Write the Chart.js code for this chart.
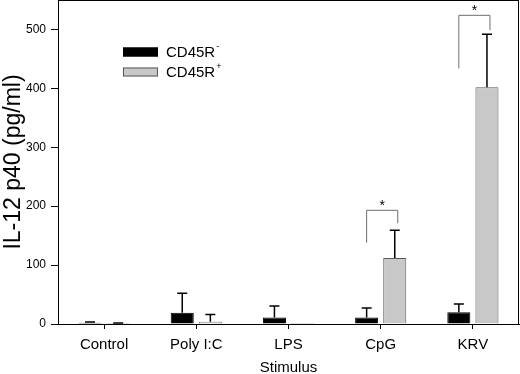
<html>
<head>
<script src="https://cdn.jsdelivr.net/npm/chart.js@4.4.0/dist/chart.umd.min.js"></script>
<style>
  body { margin: 0; background: white; }
  canvas { display: block; }
</style>
</head>
<body>
  <canvas id="il12Chart" width="520" height="374"></canvas>

<script>
  // values (pg/ml)
  var stimuli = ["Control", "Poly I:C", "LPS", "CpG", "KRV"];
  var cd45Neg = [2, 19, 11, 11, 20];
  var cd45NegErr = [1.5, 33, 19.5, 16, 14];
  var cd45Pos = [1, 4, 1, 112, 402];
  var cd45PosErr = [0.5, 12, 0, 47, 90];
  var yTicks = [0, 100, 200, 300, 400, 500];

  // significance brackets: category index, left leg bottom, right leg bottom, bar top
  var sigIndex = [3, 4];
  var sigLeftLow = [138, 434];
  var sigRightLow = [171, 499];
  var sigTop = [193, 524];

  var fontName = "'Liberation Sans', Arial, sans-serif";

  // draws error bars, brackets, legend and the plot frame
  var extrasPlugin = {
    id: "extras",
    afterDatasetsDraw: function(chart) {
      var ctx = chart.ctx;
      var yScale = chart.scales.y;
      var errs = [cd45NegErr, cd45PosErr];
      var vals = [cd45Neg, cd45Pos];

      ctx.save();
      ctx.strokeStyle = "#000";
      ctx.lineWidth = 1.5;
      for (var d = 0; d < 2; d++) {
        var meta = chart.getDatasetMeta(d);
        for (var i = 0; i < meta.data.length; i++) {
          if (errs[d][i] <= 0) continue;
          var bx = meta.data[i].x;
          var yTop = yScale.getPixelForValue(vals[d][i] + errs[d][i]);
          var yBar = yScale.getPixelForValue(vals[d][i]);
          ctx.beginPath();
          ctx.moveTo(bx, yBar);
          ctx.lineTo(bx, yTop);
          ctx.moveTo(bx - 5, yTop);
          ctx.lineTo(bx + 5, yTop);
          ctx.stroke();
        }
      }

      // brackets with stars
      ctx.strokeStyle = "#6e6e6e";
      ctx.lineWidth = 1;
      for (var k = 0; k < sigIndex.length; k++) {
        var xl = chart.getDatasetMeta(0).data[sigIndex[k]].x;
        var xr = chart.getDatasetMeta(1).data[sigIndex[k]].x + 3;
        var yt = yScale.getPixelForValue(sigTop[k]);
        ctx.beginPath();
        ctx.moveTo(xl, yScale.getPixelForValue(sigLeftLow[k]));
        ctx.lineTo(xl, yt);
        ctx.lineTo(xr, yt);
        ctx.lineTo(xr, yScale.getPixelForValue(sigRightLow[k]));
        ctx.stroke();
        ctx.fillStyle = "#000";
        ctx.font = "14px " + fontName;
        ctx.textAlign = "center";
        ctx.textBaseline = "middle";
        ctx.fillText("*", (xl + xr) / 2, yt - 4);
      }

      // legend
      var area = chart.chartArea;
      var lx = area.left + 65;
      var rows = [
        { fill: "#000", stroke: "#000", sup: "-", y: area.top + 52 },
        { fill: "#c8c8c8", stroke: "#5a5a5a", sup: "+", y: area.top + 72 }
      ];
      ctx.textAlign = "left";
      ctx.textBaseline = "middle";
      rows.forEach(function(r) {
        ctx.fillStyle = r.fill;
        ctx.fillRect(lx, r.y - 4.5, 35, 9);
        ctx.strokeStyle = r.stroke;
        ctx.lineWidth = 1;
        ctx.strokeRect(lx + 0.5, r.y - 4, 34, 8);
        ctx.fillStyle = "#000";
        ctx.font = "15px " + fontName;
        ctx.fillText("CD45R", lx + 43, r.y + 1);
        var w = ctx.measureText("CD45R").width;
        ctx.font = "9px " + fontName;
        ctx.fillText(r.sup, lx + 44 + w, r.y - 5);
      });

      // frame round the plot
      ctx.strokeStyle = "#000";
      ctx.lineWidth = 1;
      ctx.strokeRect(area.left + 0.5, area.top + 0.5, area.right - area.left - 1, area.bottom - area.top);
      ctx.restore();
    }
  };

  var il12Chart = new Chart(document.getElementById("il12Chart"), {
    type: "bar",
    data: {
      labels: stimuli,
      datasets: [
        {
          label: "CD45R-",
          data: cd45Neg,
          backgroundColor: "#000",
          borderColor: "#000",
          borderWidth: 1,
          minBarLength: 1
        },
        {
          label: "CD45R+",
          data: cd45Pos,
          backgroundColor: "#c8c8c8",
          borderColor: "#5a5a5a",
          borderWidth: 1,
          minBarLength: 1
        }
      ]
    },
    options: {
      responsive: false,
      animation: false,
      categoryPercentage: 0.61,
      barPercentage: 0.82,
      layout: { padding: { top: 0, right: 1, left: 0, bottom: 0 } },
      plugins: {
        legend: { display: false },
        tooltip: { enabled: false }
      },
      scales: {
        x: {
          grid: { display: true, drawOnChartArea: false, offset: false, tickLength: 5, color: "#000" },
          border: { display: true, color: "#000" },
          ticks: { color: "#000", font: { family: fontName, size: 15 }, padding: 7 },
          title: {
            display: true, text: "Stimulus", color: "#000",
            font: { family: fontName, size: 15 }, padding: { top: 0, bottom: -3 }
          },
          afterFit: function(scale) {
            scale.height = 50;
            scale.paddingLeft = 0;
            scale.paddingRight = 0;
          }
        },
        y: {
          min: 0,
          max: 550,
          afterBuildTicks: function(scale) {
            scale.ticks = yTicks.map(function(v) { return { value: v }; });
          },
          grid: { display: true, drawOnChartArea: false, tickLength: 7, color: "#000" },
          border: { display: true, color: "#000" },
          ticks: { color: "#000", font: { family: fontName, size: 12 }, padding: 5 },
          title: {
            display: true, text: "IL-12 p40 (pg/ml)", color: "#000",
            font: { family: fontName, size: 23 }, padding: { top: 0, bottom: 0 }
          },
          afterFit: function(scale) {
            scale.width = 58;
            scale.paddingTop = 0;
            scale.paddingBottom = 0;
          }
        }
      }
    },
    plugins: [extrasPlugin]
  });
</script>
</body>
</html>
